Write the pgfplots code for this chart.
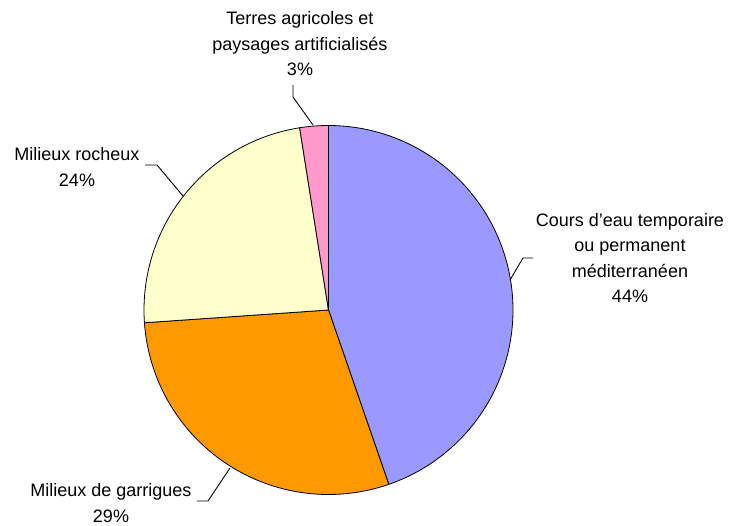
\documentclass[border=0pt]{standalone}
\usepackage{pgfplots}
\pgfplotsset{compat=1.18}
\usepackage{fontspec}
\setmainfont{Liberation Sans}
\definecolor{cBlue}{HTML}{9999FF}
\definecolor{cOrange}{HTML}{FF9900}
\definecolor{cYellow}{HTML}{FFFFCC}
\definecolor{cPink}{HTML}{FF99CC}
% shares (percent) of the four slices, clockwise from the top
\def\va{44.7}
\def\vb{29.2}
\def\vc{23.6}
\def\vd{2.5}
\def\cx{328.5}
\def\cy{214}
\def\rr{184.5}
\pgfmathsetmacro\aA{90}
\pgfmathsetmacro\aB{90-3.6*\va}
\pgfmathsetmacro\aC{\aB-3.6*\vb}
\pgfmathsetmacro\aD{\aC-3.6*\vc}
\pgfmathsetmacro\aE{\aD-3.6*\vd}
\begin{document}
\begin{tikzpicture}
\begin{axis}[hide axis, scale only axis, width=731pt, height=524pt,
  xmin=0, xmax=731, ymin=0, ymax=524, clip=false,
  every axis plot/.append style={line width=0.8pt}]
\path (axis cs:0,0) rectangle (axis cs:731,524);
\addplot[fill=cBlue, draw=black, domain=\aB:\aA, samples=120, variable=\t]
  ({\cx+\rr*cos(\t)},{\cy+\rr*sin(\t)}) -- (axis cs:\cx,\cy) -- cycle;
\addplot[fill=cOrange, draw=black, domain=\aC:\aB, samples=90, variable=\t]
  ({\cx+\rr*cos(\t)},{\cy+\rr*sin(\t)}) -- (axis cs:\cx,\cy) -- cycle;
\addplot[fill=cYellow, draw=black, domain=\aD:\aC, samples=80, variable=\t]
  ({\cx+\rr*cos(\t)},{\cy+\rr*sin(\t)}) -- (axis cs:\cx,\cy) -- cycle;
\addplot[fill=cPink, draw=black, domain=\aE:\aD, samples=20, variable=\t]
  ({\cx+\rr*cos(\t)},{\cy+\rr*sin(\t)}) -- (axis cs:\cx,\cy) -- cycle;
% leader lines
\addplot[black, line width=0.9pt, no marks] coordinates {(313,399) (293,427) (293,439)};
\addplot[black, line width=0.9pt, no marks] coordinates {(183,328) (157,359) (145,359)};
\addplot[black, line width=0.9pt, no marks] coordinates {(510,244) (523,266) (533,266)};
\addplot[black, line width=0.9pt, no marks] coordinates {(230,56) (208,23) (197,23)};
% labels
\begin{scope}[every node/.style={align=center, font=\fontsize{18}{25.5}\selectfont}]
\node at (axis cs:300,480) {Terres agricoles et\\paysages artificialisés\\3\%};
\node at (axis cs:77,357) {Milieux rocheux\\24\%};
\node at (axis cs:630,266) {Cours d’eau temporaire\\ou permanent\\méditerranéen\\44\%};
\node at (axis cs:111,21) {Milieux de garrigues\\29\%};
\end{scope}
\end{axis}
\end{tikzpicture}
\end{document}
